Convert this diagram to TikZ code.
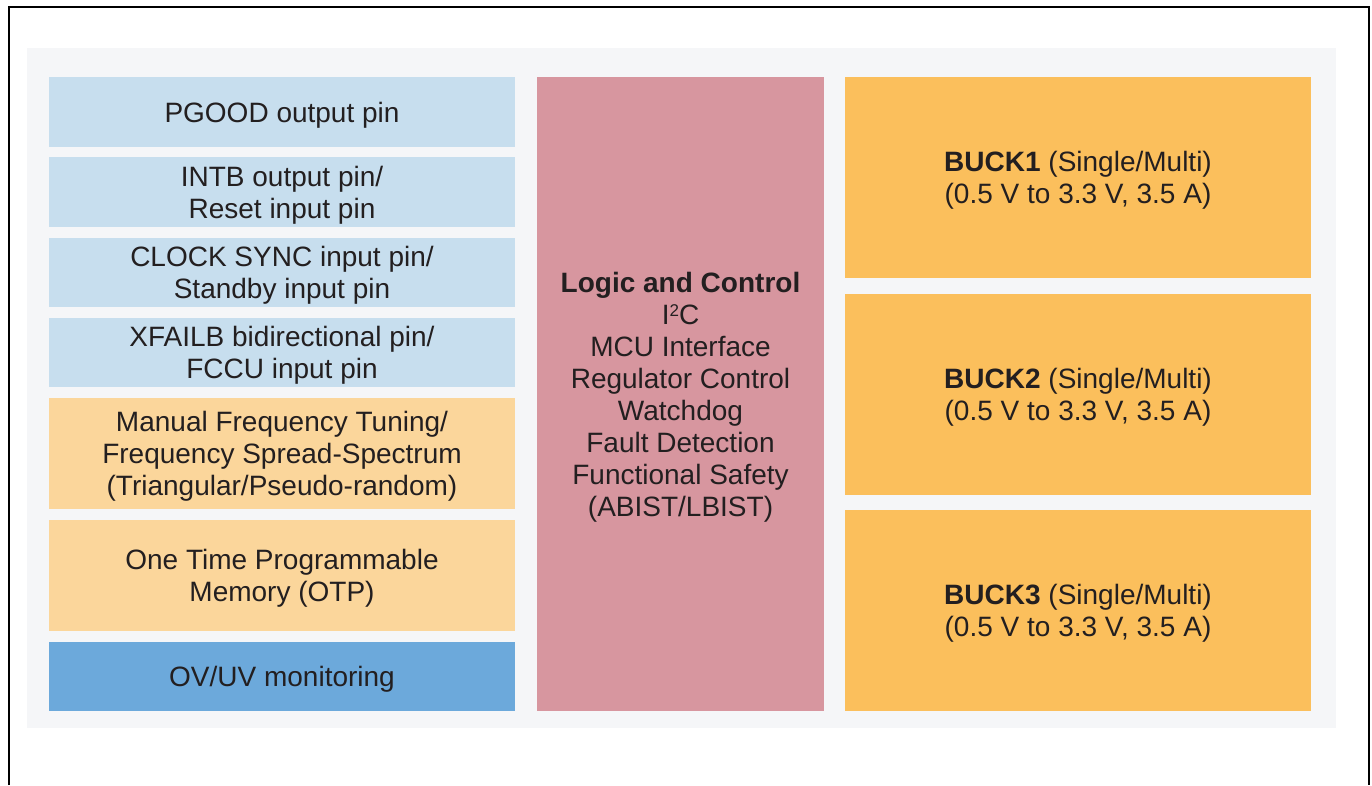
\documentclass[tikz,border=0pt]{standalone}
\usepackage{fontspec}
\setmainfont{Liberation Sans}
\definecolor{pinbg}{HTML}{C7DEEE}
\definecolor{tunebg}{HTML}{FBD69B}
\definecolor{monbg}{HTML}{6CA9DB}
\definecolor{logicbg}{HTML}{D7969F}
\definecolor{buckbg}{HTML}{FBBF5C}
\definecolor{panelbg}{HTML}{F5F6F8}
\definecolor{txt}{HTML}{231F20}
\tikzset{
  blk/.style={rectangle, inner sep=0pt, outer sep=0pt, align=center, text=txt,
    text depth=0pt, font=\fontsize{28}{32}\selectfont},
  pinblk/.style={blk, fill=pinbg, minimum width=466, minimum height=#1},
  tuneblk/.style={blk, fill=tunebg, minimum width=466, minimum height=111},
  monblk/.style={blk, fill=monbg, minimum width=466, minimum height=69},
  buckblk/.style={blk, fill=buckbg, minimum width=466, minimum height=201},
}
\begin{document}
\begin{tikzpicture}[x=1pt, y=-1pt]
\def\lx{282}
\def\rx{1078}
\useasboundingbox (0,0) rectangle (1372,785);
\draw[line width=2.2] (9,785) -- (9,7) -- (1369,7) -- (1369,785);
\fill[panelbg] (27,48) rectangle (1336,728);

% left column
\node[pinblk=70] (pgood) at (\lx, 112) {PGOOD output pin};
\node[pinblk=70] (intb) at (\lx, 192) {INTB output pin/\\Reset input pin};
\node[pinblk=69] (clk) at (\lx, 272.5) {CLOCK SYNC input pin/\\Standby input pin};
\node[pinblk=69] (xfail) at (\lx, 352.5) {XFAILB bidirectional pin/\\FCCU input pin};
\node[tuneblk] (freq) at (\lx, 453.5) {Manual Frequency Tuning/\\Frequency Spread-Spectrum\\(Triangular/Pseudo-random)};
\node[tuneblk] (otp) at (\lx, 575.5) {One Time Programmable\\Memory (OTP)};
\node[monblk] (ovuv) at (\lx, 676.5) {OV/UV monitoring};

% middle column
\node[blk, fill=logicbg, minimum width=287, minimum height=634] (logic) at (680.5, 394)
  {\textbf{Logic and Control}\\I{\fontsize{17}{17}\selectfont\raisebox{7.5pt}{2}}C\\MCU Interface\\Regulator Control\\Watchdog\\Fault Detection\\Functional Safety\\(ABIST/LBIST)};

% right column
\node[buckblk] (buck1) at (\rx, 177.5) {\textbf{BUCK1} (Single/Multi)\\(0.5 V to 3.3 V, 3.5 A)};
\node[buckblk] (buck2) at (\rx, 394.5) {\textbf{BUCK2} (Single/Multi)\\(0.5 V to 3.3 V, 3.5 A)};
\node[buckblk] (buck3) at (\rx, 610.5) {\textbf{BUCK3} (Single/Multi)\\(0.5 V to 3.3 V, 3.5 A)};
\end{tikzpicture}
\end{document}
